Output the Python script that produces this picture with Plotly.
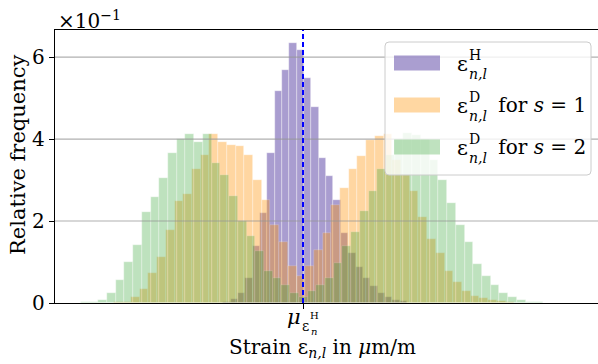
import plotly.graph_objects as go

# ---------------- data (strain offsets from the mean, in µm/m) ----------------
MU_H = 0.0  # mean of eps^H

# eps^H histogram
H_BIN_START = -79.8
H_BIN_WIDTH = 7.35
H_FREQ = [0.003, 0.010, 0.025, 0.060, 0.140, 0.220, 0.366, 0.517, 0.568, 0.635,
          0.617, 0.549, 0.479, 0.354, 0.309, 0.252, 0.172, 0.122, 0.088, 0.061,
          0.041, 0.025, 0.015, 0.008, 0.004]

# eps^D for s = 1
S1_BIN_START = -189.4
S1_BIN_WIDTH = 8.71
S1_FREQ = [0.002, 0.003, 0.015, 0.035, 0.073, 0.112, 0.179, 0.250, 0.265, 0.326,
           0.362, 0.413, 0.393, 0.386, 0.382, 0.360, 0.300, 0.252, 0.190, 0.150,
           0.090, 0.065, 0.090, 0.130, 0.170, 0.240, 0.280, 0.327, 0.358, 0.397,
           0.407, 0.413, 0.350, 0.313, 0.274, 0.210, 0.155, 0.121, 0.079, 0.051,
           0.030, 0.018, 0.012, 0.008, 0.004, 0.002]

# eps^D for s = 2
S2_BIN_START = -230.9
S2_BIN_WIDTH = 8.72
S2_FREQ = [0.001, 0.002, 0.003, 0.0085, 0.024, 0.055, 0.099, 0.141, 0.223, 0.258,
           0.306, 0.365, 0.400, 0.413, 0.392, 0.413, 0.342, 0.313, 0.260, 0.200,
           0.163, 0.128, 0.078, 0.060, 0.045, 0.025, 0.015, 0.030, 0.045, 0.060,
           0.098, 0.140, 0.173, 0.224, 0.274, 0.328, 0.360, 0.400, 0.415, 0.410,
           0.400, 0.350, 0.300, 0.243, 0.191, 0.148, 0.095, 0.065, 0.043, 0.025,
           0.014, 0.007, 0.003, 0.002]

Y_TICKS = [0, 0.2, 0.4, 0.6]
Y_TICK_TEXT = ["0", "2", "4", "6"]
LEGEND_LABELS = [("H", ""), ("D", " for <i>s</i> = 1"), ("D", " for <i>s</i> = 2")]

# ---------------- style ----------------
FONT = "DejaVu Serif, Liberation Serif, serif"
C_H = "rgb(113,93,177)"
C_S1 = "rgb(255,150,10)"
C_S2 = "rgb(44,160,44)"
A_H, A_S1, A_S2 = 0.6, 0.38, 0.3

W, H = 598, 364
ML, MR, MT, MB = 55, 0, 30, 61
PW, PH = W - ML - MR, H - MT - MB
X_RANGE = [-248, 295]
Y_RANGE = [0, 0.666]


def xp(px):
    return (px - ML) / PW


def yp(py):
    return (H - MB - py) / PH


def centers(start, width, n):
    return [start + width * (k + 0.5) for k in range(n)]


def rounded_rect(x0, y0, x1, y1, r):
    """Rounded rectangle path in paper coords from pixel corners (top-left x0,y0)."""
    pts = [
        f"M {xp(x0 + r)},{yp(y0)}",
        f"L {xp(x1 - r)},{yp(y0)}",
        f"Q {xp(x1)},{yp(y0)} {xp(x1)},{yp(y0 + r)}",
        f"L {xp(x1)},{yp(y1 - r)}",
        f"Q {xp(x1)},{yp(y1)} {xp(x1 - r)},{yp(y1)}",
        f"L {xp(x0 + r)},{yp(y1)}",
        f"Q {xp(x0)},{yp(y1)} {xp(x0)},{yp(y1 - r)}",
        f"L {xp(x0)},{yp(y0 + r)}",
        f"Q {xp(x0)},{yp(y0)} {xp(x0 + r)},{yp(y0)} Z",
    ]
    return " ".join(pts)


fig = go.Figure()
for freq, start, width, col, alpha, name in [
    (H_FREQ, H_BIN_START, H_BIN_WIDTH, C_H, A_H, "H"),
    (S1_FREQ, S1_BIN_START, S1_BIN_WIDTH, C_S1, A_S1, "s1"),
    (S2_FREQ, S2_BIN_START, S2_BIN_WIDTH, C_S2, A_S2, "s2"),
]:
    fig.add_trace(go.Bar(
        x=centers(start, width, len(freq)), y=freq, width=width, name=name,
        marker=dict(color=col, opacity=alpha,
                    line=dict(color="rgba(255,255,255,0.7)", width=0.6)),
        showlegend=False, hoverinfo="skip"))

shapes = []
# grid lines drawn above the bars
for t in Y_TICKS[1:]:
    shapes.append(dict(type="line", xref="paper", yref="y", x0=0, x1=1, y0=t, y1=t,
                       line=dict(color="rgba(150,150,150,0.75)", width=1.2), layer="above"))
# mean line
shapes.append(dict(type="line", xref="x", yref="paper", x0=MU_H, x1=MU_H, y0=0, y1=1,
                   line=dict(color="rgb(0,0,255)", width=2, dash="5px,3px"), layer="above"))

# legend box
shapes.append(dict(type="path", xref="paper", yref="paper", path=rounded_rect(385, 42, 591, 175, 4),
                   fillcolor="rgba(255,255,255,0.8)",
                   line=dict(color="rgba(204,204,204,1)", width=1), layer="above"))

annotations = []
row_gap = 42
for i, ((sup, rest), col, alpha) in enumerate(zip(LEGEND_LABELS, [C_H, C_S1, C_S2], [A_H, A_S1, A_S2])):
    cy = 63 + i * row_gap
    shapes.append(dict(type="rect", xref="paper", yref="paper",
                       x0=xp(394), x1=xp(440), y0=yp(cy + 7.5), y1=yp(cy - 7.5),
                       fillcolor=col, opacity=alpha, line=dict(width=0), layer="above"))
    annotations.append(dict(text="ε", x=xp(455), y=yp(cy + 1), xref="paper", yref="paper",
                            xanchor="left", yanchor="middle", showarrow=False,
                            font=dict(family=FONT, size=21, color="black")))
    annotations.append(dict(text=sup, x=xp(467), y=yp(cy - 8), xref="paper", yref="paper",
                            xanchor="left", yanchor="middle", showarrow=False,
                            font=dict(family=FONT, size=14, color="black")))
    annotations.append(dict(text="<i>n,l</i>", x=xp(467), y=yp(cy + 11), xref="paper", yref="paper",
                            xanchor="left", yanchor="middle", showarrow=False,
                            font=dict(family=FONT, size=14, color="black")))
    if rest:
        annotations.append(dict(text=rest, x=xp(490), y=yp(cy), xref="paper", yref="paper",
                                xanchor="left", yanchor="middle", showarrow=False,
                                font=dict(family=FONT, size=20, color="black")))

# x tick label: mu_{eps_n^H}
annotations += [
    dict(text="<i>μ</i>", x=xp(294), y=yp(317), xref="paper", yref="paper",
         xanchor="center", yanchor="middle", showarrow=False, font=dict(family=FONT, size=21)),
    dict(text="ε", x=xp(305.5), y=yp(326), xref="paper", yref="paper",
         xanchor="center", yanchor="middle", showarrow=False, font=dict(family=FONT, size=14)),
    dict(text="H", x=xp(314), y=yp(315.5), xref="paper", yref="paper",
         xanchor="center", yanchor="middle", showarrow=False, font=dict(family=FONT, size=10)),
    dict(text="<i>n</i>", x=xp(313.5), y=yp(331), xref="paper", yref="paper",
         xanchor="center", yanchor="middle", showarrow=False, font=dict(family=FONT, size=10)),
]
# axis titles
annotations.append(dict(text="Strain ε<sub><i>n,l</i></sub> in <i>μ</i>m/m", x=xp(322), y=yp(348),
                        xref="paper", yref="paper", xanchor="center", yanchor="middle",
                        showarrow=False, font=dict(family=FONT, size=20)))
annotations.append(dict(text="Relative frequency", x=xp(18), y=yp(155), xref="paper", yref="paper",
                        xanchor="center", yanchor="middle", textangle=-90,
                        showarrow=False, font=dict(family=FONT, size=21)))
# offset text
annotations.append(dict(text="×10<sup>−1</sup>", x=xp(56), y=yp(20), xref="paper", yref="paper",
                        xanchor="left", yanchor="middle", showarrow=False,
                        font=dict(family=FONT, size=20)))

fig.update_layout(
    width=W, height=H, margin=dict(l=ML, r=MR, t=MT, b=MB, pad=0),
    paper_bgcolor="white", plot_bgcolor="white", barmode="overlay", bargap=0,
    font=dict(family=FONT, color="black"),
    shapes=shapes, annotations=annotations,
    xaxis=dict(range=X_RANGE, tickvals=[MU_H], showticklabels=False, ticks="outside", ticklen=5,
               tickcolor="black", showgrid=False, zeroline=False, showline=True,
               linecolor="black", linewidth=1.3, mirror=True),
    yaxis=dict(range=Y_RANGE, tickvals=Y_TICKS, ticktext=Y_TICK_TEXT, ticks="outside", ticklen=5,
               tickcolor="black", showgrid=False, zeroline=False, showline=True,
               linecolor="black", linewidth=1.3, tickfont=dict(family=FONT, size=20)),
)
fig.write_html("out.html", config={"displayModeBar": False},
               post_script="document.body.style.margin='0';")
